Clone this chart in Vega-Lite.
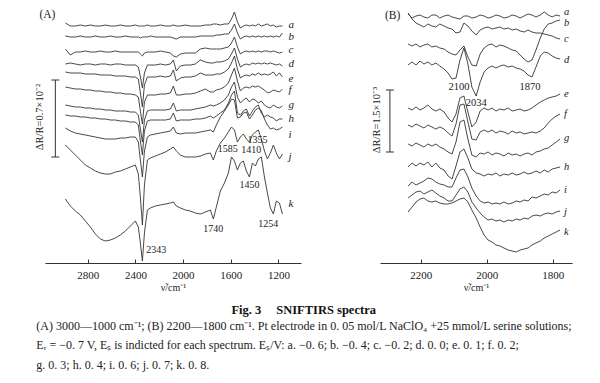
{
"$schema":"https://vega.github.io/schema/vega-lite/v6.json",
"background":"white",
"padding":{"left":35,"top":7,"right":5,"bottom":5},
"config":{"view":{"stroke":null},"font":"Liberation Serif","axis":{"domainColor":"#333","tickColor":"#333","tickSize":-4,"labelPadding":10,"labelFont":"Liberation Serif","labelFontSize":11,"labelColor":"#222","grid":false,"titleFont":"Liberation Serif","titleFontSize":10,"titleFontWeight":"normal","titleColor":"#222","titlePadding":2,"labelFlush":false}},
"datasets":{
"A":[
{"s":"a","x":2989,"y":240},{"s":"a","x":2947,"y":237},{"s":"a","x":2905,"y":237},{"s":"a","x":2863,"y":238},{"s":"a","x":2821,"y":237},{"s":"a","x":2779,"y":238},{"s":"a","x":2737,"y":237},{"s":"a","x":2695,"y":237},{"s":"a","x":2653,"y":238},{"s":"a","x":2611,"y":237},{"s":"a","x":2569,"y":237},{"s":"a","x":2527,"y":238},{"s":"a","x":2485,"y":237},{"s":"a","x":2443,"y":237},{"s":"a","x":2401,"y":238},{"s":"a","x":2376,"y":237},{"s":"a","x":2359,"y":237},{"s":"a","x":2342,"y":237},{"s":"a","x":2325,"y":237},{"s":"a","x":2300,"y":238},{"s":"a","x":2275,"y":237},{"s":"a","x":2233,"y":237},{"s":"a","x":2191,"y":238},{"s":"a","x":2149,"y":237},{"s":"a","x":2107,"y":237},{"s":"a","x":2082,"y":238},{"s":"a","x":2057,"y":237},{"s":"a","x":2023,"y":237},{"s":"a","x":1981,"y":238},{"s":"a","x":1939,"y":237},{"s":"a","x":1897,"y":237},{"s":"a","x":1855,"y":237},{"s":"a","x":1813,"y":238},{"s":"a","x":1771,"y":238},{"s":"a","x":1746,"y":239},{"s":"a","x":1721,"y":239},{"s":"a","x":1687,"y":238},{"s":"a","x":1653,"y":239},{"s":"a","x":1620,"y":239},{"s":"a","x":1594,"y":244},{"s":"a","x":1569,"y":251},{"s":"a","x":1544,"y":241},{"s":"a","x":1519,"y":235},{"s":"a","x":1494,"y":237},{"s":"a","x":1469,"y":238},{"s":"a","x":1443,"y":237},{"s":"a","x":1418,"y":238},{"s":"a","x":1393,"y":237},{"s":"a","x":1368,"y":239},{"s":"a","x":1343,"y":237},{"s":"a","x":1317,"y":238},{"s":"a","x":1292,"y":239},{"s":"a","x":1267,"y":237},{"s":"a","x":1242,"y":238},{"s":"a","x":1217,"y":236},{"s":"a","x":1191,"y":237},{"s":"a","x":1166,"y":237},
{"s":"b","x":2989,"y":227},{"s":"b","x":2947,"y":226},{"s":"b","x":2905,"y":226},{"s":"b","x":2863,"y":227},{"s":"b","x":2821,"y":226},{"s":"b","x":2779,"y":226},{"s":"b","x":2737,"y":227},{"s":"b","x":2695,"y":226},{"s":"b","x":2653,"y":226},{"s":"b","x":2611,"y":227},{"s":"b","x":2569,"y":226},{"s":"b","x":2527,"y":226},{"s":"b","x":2485,"y":227},{"s":"b","x":2443,"y":226},{"s":"b","x":2401,"y":226},{"s":"b","x":2376,"y":226},{"s":"b","x":2359,"y":225},{"s":"b","x":2342,"y":226},{"s":"b","x":2325,"y":226},{"s":"b","x":2300,"y":226},{"s":"b","x":2275,"y":227},{"s":"b","x":2233,"y":226},{"s":"b","x":2191,"y":226},{"s":"b","x":2149,"y":226},{"s":"b","x":2107,"y":226},{"s":"b","x":2082,"y":225},{"s":"b","x":2057,"y":224},{"s":"b","x":2023,"y":226},{"s":"b","x":1981,"y":226},{"s":"b","x":1939,"y":226},{"s":"b","x":1897,"y":226},{"s":"b","x":1855,"y":227},{"s":"b","x":1813,"y":227},{"s":"b","x":1771,"y":227},{"s":"b","x":1746,"y":227},{"s":"b","x":1721,"y":228},{"s":"b","x":1687,"y":228},{"s":"b","x":1653,"y":229},{"s":"b","x":1620,"y":229},{"s":"b","x":1594,"y":233},{"s":"b","x":1569,"y":239},{"s":"b","x":1544,"y":230},{"s":"b","x":1519,"y":224},{"s":"b","x":1494,"y":226},{"s":"b","x":1469,"y":227},{"s":"b","x":1443,"y":226},{"s":"b","x":1418,"y":227},{"s":"b","x":1393,"y":226},{"s":"b","x":1368,"y":227},{"s":"b","x":1343,"y":226},{"s":"b","x":1317,"y":227},{"s":"b","x":1292,"y":226},{"s":"b","x":1267,"y":227},{"s":"b","x":1242,"y":226},{"s":"b","x":1217,"y":227},{"s":"b","x":1191,"y":226},{"s":"b","x":1166,"y":230},
{"s":"c","x":2989,"y":214},{"s":"c","x":2947,"y":208},{"s":"c","x":2905,"y":211},{"s":"c","x":2863,"y":211},{"s":"c","x":2821,"y":212},{"s":"c","x":2779,"y":211},{"s":"c","x":2737,"y":211},{"s":"c","x":2695,"y":212},{"s":"c","x":2653,"y":211},{"s":"c","x":2611,"y":211},{"s":"c","x":2569,"y":212},{"s":"c","x":2527,"y":211},{"s":"c","x":2485,"y":211},{"s":"c","x":2443,"y":211},{"s":"c","x":2401,"y":211},{"s":"c","x":2376,"y":211},{"s":"c","x":2359,"y":209},{"s":"c","x":2342,"y":207},{"s":"c","x":2325,"y":210},{"s":"c","x":2300,"y":211},{"s":"c","x":2275,"y":211},{"s":"c","x":2233,"y":211},{"s":"c","x":2191,"y":212},{"s":"c","x":2149,"y":211},{"s":"c","x":2107,"y":210},{"s":"c","x":2082,"y":207},{"s":"c","x":2057,"y":206},{"s":"c","x":2023,"y":209},{"s":"c","x":1981,"y":210},{"s":"c","x":1939,"y":210},{"s":"c","x":1897,"y":210},{"s":"c","x":1855,"y":214},{"s":"c","x":1813,"y":215},{"s":"c","x":1771,"y":214},{"s":"c","x":1746,"y":214},{"s":"c","x":1721,"y":214},{"s":"c","x":1687,"y":214},{"s":"c","x":1653,"y":215},{"s":"c","x":1620,"y":216},{"s":"c","x":1594,"y":220},{"s":"c","x":1569,"y":226},{"s":"c","x":1544,"y":216},{"s":"c","x":1519,"y":209},{"s":"c","x":1494,"y":211},{"s":"c","x":1469,"y":212},{"s":"c","x":1443,"y":211},{"s":"c","x":1418,"y":212},{"s":"c","x":1393,"y":211},{"s":"c","x":1368,"y":212},{"s":"c","x":1343,"y":211},{"s":"c","x":1317,"y":212},{"s":"c","x":1292,"y":212},{"s":"c","x":1267,"y":211},{"s":"c","x":1242,"y":212},{"s":"c","x":1217,"y":211},{"s":"c","x":1191,"y":210},{"s":"c","x":1166,"y":211},
{"s":"d","x":2989,"y":199},{"s":"d","x":2947,"y":200},{"s":"d","x":2905,"y":199},{"s":"d","x":2863,"y":198},{"s":"d","x":2821,"y":199},{"s":"d","x":2779,"y":199},{"s":"d","x":2737,"y":198},{"s":"d","x":2695,"y":199},{"s":"d","x":2653,"y":199},{"s":"d","x":2611,"y":198},{"s":"d","x":2569,"y":199},{"s":"d","x":2527,"y":199},{"s":"d","x":2485,"y":198},{"s":"d","x":2443,"y":198},{"s":"d","x":2401,"y":198},{"s":"d","x":2376,"y":196},{"s":"d","x":2359,"y":186},{"s":"d","x":2342,"y":175},{"s":"d","x":2325,"y":190},{"s":"d","x":2300,"y":198},{"s":"d","x":2275,"y":198},{"s":"d","x":2233,"y":198},{"s":"d","x":2191,"y":199},{"s":"d","x":2149,"y":198},{"s":"d","x":2107,"y":199},{"s":"d","x":2082,"y":203},{"s":"d","x":2057,"y":192},{"s":"d","x":2023,"y":197},{"s":"d","x":1981,"y":198},{"s":"d","x":1939,"y":198},{"s":"d","x":1897,"y":199},{"s":"d","x":1855,"y":203},{"s":"d","x":1813,"y":201},{"s":"d","x":1771,"y":200},{"s":"d","x":1746,"y":200},{"s":"d","x":1721,"y":201},{"s":"d","x":1687,"y":201},{"s":"d","x":1653,"y":202},{"s":"d","x":1620,"y":204},{"s":"d","x":1594,"y":209},{"s":"d","x":1569,"y":215},{"s":"d","x":1544,"y":204},{"s":"d","x":1519,"y":196},{"s":"d","x":1494,"y":198},{"s":"d","x":1469,"y":199},{"s":"d","x":1443,"y":198},{"s":"d","x":1418,"y":200},{"s":"d","x":1393,"y":199},{"s":"d","x":1368,"y":200},{"s":"d","x":1343,"y":199},{"s":"d","x":1317,"y":200},{"s":"d","x":1292,"y":199},{"s":"d","x":1267,"y":200},{"s":"d","x":1242,"y":199},{"s":"d","x":1217,"y":198},{"s":"d","x":1191,"y":199},{"s":"d","x":1166,"y":197},
{"s":"e","x":2989,"y":191},{"s":"e","x":2947,"y":190},{"s":"e","x":2905,"y":190},{"s":"e","x":2863,"y":190},{"s":"e","x":2821,"y":189},{"s":"e","x":2779,"y":189},{"s":"e","x":2737,"y":189},{"s":"e","x":2695,"y":188},{"s":"e","x":2653,"y":188},{"s":"e","x":2611,"y":188},{"s":"e","x":2569,"y":187},{"s":"e","x":2527,"y":187},{"s":"e","x":2485,"y":187},{"s":"e","x":2443,"y":186},{"s":"e","x":2401,"y":186},{"s":"e","x":2376,"y":184},{"s":"e","x":2359,"y":170},{"s":"e","x":2342,"y":156},{"s":"e","x":2325,"y":178},{"s":"e","x":2300,"y":186},{"s":"e","x":2275,"y":186},{"s":"e","x":2233,"y":186},{"s":"e","x":2191,"y":187},{"s":"e","x":2149,"y":186},{"s":"e","x":2107,"y":187},{"s":"e","x":2082,"y":193},{"s":"e","x":2057,"y":182},{"s":"e","x":2023,"y":185},{"s":"e","x":1981,"y":186},{"s":"e","x":1939,"y":186},{"s":"e","x":1897,"y":187},{"s":"e","x":1855,"y":190},{"s":"e","x":1813,"y":188},{"s":"e","x":1771,"y":188},{"s":"e","x":1746,"y":188},{"s":"e","x":1721,"y":189},{"s":"e","x":1687,"y":189},{"s":"e","x":1653,"y":191},{"s":"e","x":1620,"y":194},{"s":"e","x":1594,"y":200},{"s":"e","x":1569,"y":207},{"s":"e","x":1544,"y":194},{"s":"e","x":1519,"y":185},{"s":"e","x":1494,"y":187},{"s":"e","x":1469,"y":188},{"s":"e","x":1443,"y":187},{"s":"e","x":1418,"y":189},{"s":"e","x":1393,"y":188},{"s":"e","x":1368,"y":190},{"s":"e","x":1343,"y":188},{"s":"e","x":1317,"y":189},{"s":"e","x":1292,"y":188},{"s":"e","x":1267,"y":189},{"s":"e","x":1242,"y":191},{"s":"e","x":1217,"y":187},{"s":"e","x":1191,"y":190},{"s":"e","x":1166,"y":186},
{"s":"f","x":2989,"y":176},{"s":"f","x":2947,"y":175},{"s":"f","x":2905,"y":174},{"s":"f","x":2863,"y":174},{"s":"f","x":2821,"y":173},{"s":"f","x":2779,"y":173},{"s":"f","x":2737,"y":172},{"s":"f","x":2695,"y":172},{"s":"f","x":2653,"y":171},{"s":"f","x":2611,"y":171},{"s":"f","x":2569,"y":170},{"s":"f","x":2527,"y":170},{"s":"f","x":2485,"y":169},{"s":"f","x":2443,"y":169},{"s":"f","x":2401,"y":168},{"s":"f","x":2376,"y":166},{"s":"f","x":2359,"y":152},{"s":"f","x":2342,"y":139},{"s":"f","x":2325,"y":161},{"s":"f","x":2300,"y":168},{"s":"f","x":2275,"y":168},{"s":"f","x":2233,"y":168},{"s":"f","x":2191,"y":169},{"s":"f","x":2149,"y":169},{"s":"f","x":2107,"y":170},{"s":"f","x":2082,"y":177},{"s":"f","x":2057,"y":168},{"s":"f","x":2023,"y":168},{"s":"f","x":1981,"y":169},{"s":"f","x":1939,"y":169},{"s":"f","x":1897,"y":170},{"s":"f","x":1855,"y":172},{"s":"f","x":1813,"y":174},{"s":"f","x":1771,"y":171},{"s":"f","x":1746,"y":171},{"s":"f","x":1721,"y":173},{"s":"f","x":1687,"y":174},{"s":"f","x":1653,"y":176},{"s":"f","x":1620,"y":180},{"s":"f","x":1594,"y":188},{"s":"f","x":1569,"y":195},{"s":"f","x":1544,"y":182},{"s":"f","x":1519,"y":172},{"s":"f","x":1494,"y":175},{"s":"f","x":1469,"y":176},{"s":"f","x":1443,"y":175},{"s":"f","x":1418,"y":177},{"s":"f","x":1393,"y":176},{"s":"f","x":1368,"y":177},{"s":"f","x":1343,"y":175},{"s":"f","x":1317,"y":173},{"s":"f","x":1292,"y":170},{"s":"f","x":1267,"y":171},{"s":"f","x":1242,"y":173},{"s":"f","x":1217,"y":172},{"s":"f","x":1191,"y":171},{"s":"f","x":1166,"y":174},
{"s":"g","x":2989,"y":158},{"s":"g","x":2947,"y":157},{"s":"g","x":2905,"y":156},{"s":"g","x":2863,"y":156},{"s":"g","x":2821,"y":155},{"s":"g","x":2779,"y":155},{"s":"g","x":2737,"y":154},{"s":"g","x":2695,"y":154},{"s":"g","x":2653,"y":153},{"s":"g","x":2611,"y":153},{"s":"g","x":2569,"y":152},{"s":"g","x":2527,"y":152},{"s":"g","x":2485,"y":152},{"s":"g","x":2443,"y":151},{"s":"g","x":2401,"y":151},{"s":"g","x":2376,"y":148},{"s":"g","x":2359,"y":134},{"s":"g","x":2342,"y":121},{"s":"g","x":2325,"y":143},{"s":"g","x":2300,"y":152},{"s":"g","x":2275,"y":153},{"s":"g","x":2233,"y":153},{"s":"g","x":2191,"y":153},{"s":"g","x":2149,"y":153},{"s":"g","x":2107,"y":154},{"s":"g","x":2082,"y":160},{"s":"g","x":2057,"y":152},{"s":"g","x":2023,"y":153},{"s":"g","x":1981,"y":153},{"s":"g","x":1939,"y":153},{"s":"g","x":1897,"y":154},{"s":"g","x":1855,"y":155},{"s":"g","x":1813,"y":156},{"s":"g","x":1771,"y":158},{"s":"g","x":1746,"y":157},{"s":"g","x":1721,"y":158},{"s":"g","x":1687,"y":160},{"s":"g","x":1653,"y":163},{"s":"g","x":1620,"y":168},{"s":"g","x":1594,"y":176},{"s":"g","x":1569,"y":181},{"s":"g","x":1544,"y":166},{"s":"g","x":1519,"y":160},{"s":"g","x":1494,"y":163},{"s":"g","x":1469,"y":165},{"s":"g","x":1443,"y":161},{"s":"g","x":1418,"y":164},{"s":"g","x":1393,"y":163},{"s":"g","x":1368,"y":160},{"s":"g","x":1343,"y":162},{"s":"g","x":1317,"y":158},{"s":"g","x":1292,"y":156},{"s":"g","x":1267,"y":155},{"s":"g","x":1242,"y":158},{"s":"g","x":1217,"y":156},{"s":"g","x":1191,"y":155},{"s":"g","x":1166,"y":157},
{"s":"h","x":2989,"y":148},{"s":"h","x":2947,"y":147},{"s":"h","x":2905,"y":147},{"s":"h","x":2863,"y":146},{"s":"h","x":2821,"y":146},{"s":"h","x":2779,"y":145},{"s":"h","x":2737,"y":145},{"s":"h","x":2695,"y":144},{"s":"h","x":2653,"y":144},{"s":"h","x":2611,"y":143},{"s":"h","x":2569,"y":143},{"s":"h","x":2527,"y":142},{"s":"h","x":2485,"y":142},{"s":"h","x":2443,"y":141},{"s":"h","x":2401,"y":141},{"s":"h","x":2376,"y":138},{"s":"h","x":2359,"y":122},{"s":"h","x":2342,"y":108},{"s":"h","x":2325,"y":132},{"s":"h","x":2300,"y":142},{"s":"h","x":2275,"y":143},{"s":"h","x":2233,"y":143},{"s":"h","x":2191,"y":143},{"s":"h","x":2149,"y":143},{"s":"h","x":2107,"y":144},{"s":"h","x":2082,"y":150},{"s":"h","x":2057,"y":142},{"s":"h","x":2023,"y":143},{"s":"h","x":1981,"y":143},{"s":"h","x":1939,"y":143},{"s":"h","x":1897,"y":144},{"s":"h","x":1855,"y":144},{"s":"h","x":1813,"y":145},{"s":"h","x":1771,"y":147},{"s":"h","x":1746,"y":145},{"s":"h","x":1721,"y":147},{"s":"h","x":1687,"y":150},{"s":"h","x":1653,"y":153},{"s":"h","x":1620,"y":160},{"s":"h","x":1594,"y":168},{"s":"h","x":1569,"y":172},{"s":"h","x":1544,"y":150},{"s":"h","x":1519,"y":148},{"s":"h","x":1494,"y":152},{"s":"h","x":1469,"y":154},{"s":"h","x":1443,"y":147},{"s":"h","x":1418,"y":152},{"s":"h","x":1393,"y":156},{"s":"h","x":1368,"y":158},{"s":"h","x":1343,"y":150},{"s":"h","x":1317,"y":146},{"s":"h","x":1292,"y":148},{"s":"h","x":1267,"y":146},{"s":"h","x":1242,"y":145},{"s":"h","x":1217,"y":142},{"s":"h","x":1191,"y":144},{"s":"h","x":1166,"y":144},
{"s":"i","x":2989,"y":135},{"s":"i","x":2947,"y":132},{"s":"i","x":2905,"y":130},{"s":"i","x":2863,"y":129},{"s":"i","x":2821,"y":128},{"s":"i","x":2779,"y":127},{"s":"i","x":2737,"y":126},{"s":"i","x":2695,"y":125},{"s":"i","x":2653,"y":124},{"s":"i","x":2611,"y":124},{"s":"i","x":2569,"y":124},{"s":"i","x":2527,"y":125},{"s":"i","x":2485,"y":125},{"s":"i","x":2443,"y":126},{"s":"i","x":2401,"y":126},{"s":"i","x":2376,"y":121},{"s":"i","x":2359,"y":103},{"s":"i","x":2342,"y":86},{"s":"i","x":2325,"y":112},{"s":"i","x":2300,"y":126},{"s":"i","x":2275,"y":128},{"s":"i","x":2233,"y":129},{"s":"i","x":2191,"y":130},{"s":"i","x":2149,"y":131},{"s":"i","x":2107,"y":132},{"s":"i","x":2082,"y":136},{"s":"i","x":2057,"y":130},{"s":"i","x":2023,"y":129},{"s":"i","x":1981,"y":130},{"s":"i","x":1939,"y":130},{"s":"i","x":1897,"y":130},{"s":"i","x":1855,"y":131},{"s":"i","x":1813,"y":132},{"s":"i","x":1771,"y":133},{"s":"i","x":1746,"y":131},{"s":"i","x":1721,"y":138},{"s":"i","x":1687,"y":146},{"s":"i","x":1653,"y":152},{"s":"i","x":1620,"y":158},{"s":"i","x":1594,"y":164},{"s":"i","x":1569,"y":163},{"s":"i","x":1544,"y":145},{"s":"i","x":1519,"y":146},{"s":"i","x":1494,"y":150},{"s":"i","x":1469,"y":151},{"s":"i","x":1443,"y":144},{"s":"i","x":1418,"y":148},{"s":"i","x":1393,"y":153},{"s":"i","x":1368,"y":155},{"s":"i","x":1343,"y":152},{"s":"i","x":1317,"y":144},{"s":"i","x":1292,"y":138},{"s":"i","x":1267,"y":134},{"s":"i","x":1242,"y":135},{"s":"i","x":1217,"y":133},{"s":"i","x":1191,"y":134},{"s":"i","x":1166,"y":136},
{"s":"j","x":2989,"y":118},{"s":"j","x":2947,"y":113},{"s":"j","x":2905,"y":108},{"s":"j","x":2863,"y":103},{"s":"j","x":2821,"y":98},{"s":"j","x":2779,"y":95},{"s":"j","x":2737,"y":92},{"s":"j","x":2695,"y":90},{"s":"j","x":2653,"y":89},{"s":"j","x":2611,"y":89},{"s":"j","x":2569,"y":91},{"s":"j","x":2527,"y":92},{"s":"j","x":2485,"y":94},{"s":"j","x":2443,"y":96},{"s":"j","x":2401,"y":98},{"s":"j","x":2376,"y":89},{"s":"j","x":2359,"y":66},{"s":"j","x":2342,"y":38},{"s":"j","x":2325,"y":78},{"s":"j","x":2300,"y":103},{"s":"j","x":2275,"y":105},{"s":"j","x":2233,"y":107},{"s":"j","x":2191,"y":109},{"s":"j","x":2149,"y":111},{"s":"j","x":2107,"y":114},{"s":"j","x":2082,"y":116},{"s":"j","x":2057,"y":112},{"s":"j","x":2023,"y":108},{"s":"j","x":1981,"y":106},{"s":"j","x":1939,"y":106},{"s":"j","x":1897,"y":106},{"s":"j","x":1855,"y":107},{"s":"j","x":1813,"y":109},{"s":"j","x":1771,"y":110},{"s":"j","x":1746,"y":103},{"s":"j","x":1721,"y":112},{"s":"j","x":1687,"y":120},{"s":"j","x":1653,"y":125},{"s":"j","x":1620,"y":131},{"s":"j","x":1594,"y":136},{"s":"j","x":1569,"y":133},{"s":"j","x":1544,"y":121},{"s":"j","x":1519,"y":126},{"s":"j","x":1494,"y":129},{"s":"j","x":1469,"y":124},{"s":"j","x":1443,"y":121},{"s":"j","x":1418,"y":128},{"s":"j","x":1393,"y":131},{"s":"j","x":1368,"y":133},{"s":"j","x":1343,"y":124},{"s":"j","x":1317,"y":112},{"s":"j","x":1292,"y":104},{"s":"j","x":1267,"y":110},{"s":"j","x":1242,"y":118},{"s":"j","x":1217,"y":110},{"s":"j","x":1191,"y":104},{"s":"j","x":1166,"y":109},
{"s":"k","x":2989,"y":64},{"s":"k","x":2947,"y":57},{"s":"k","x":2905,"y":52},{"s":"k","x":2863,"y":48},{"s":"k","x":2821,"y":42},{"s":"k","x":2779,"y":36},{"s":"k","x":2737,"y":29},{"s":"k","x":2695,"y":24},{"s":"k","x":2653,"y":22},{"s":"k","x":2611,"y":23},{"s":"k","x":2569,"y":25},{"s":"k","x":2527,"y":28},{"s":"k","x":2485,"y":32},{"s":"k","x":2443,"y":37},{"s":"k","x":2401,"y":42},{"s":"k","x":2376,"y":36},{"s":"k","x":2359,"y":20},{"s":"k","x":2342,"y":2},{"s":"k","x":2325,"y":30},{"s":"k","x":2300,"y":53},{"s":"k","x":2275,"y":55},{"s":"k","x":2233,"y":57},{"s":"k","x":2191,"y":58},{"s":"k","x":2149,"y":59},{"s":"k","x":2107,"y":60},{"s":"k","x":2082,"y":61},{"s":"k","x":2057,"y":57},{"s":"k","x":2023,"y":55},{"s":"k","x":1981,"y":53},{"s":"k","x":1939,"y":52},{"s":"k","x":1897,"y":50},{"s":"k","x":1855,"y":49},{"s":"k","x":1813,"y":51},{"s":"k","x":1771,"y":53},{"s":"k","x":1746,"y":44},{"s":"k","x":1721,"y":56},{"s":"k","x":1687,"y":72},{"s":"k","x":1653,"y":80},{"s":"k","x":1620,"y":90},{"s":"k","x":1594,"y":106},{"s":"k","x":1569,"y":102},{"s":"k","x":1544,"y":93},{"s":"k","x":1519,"y":100},{"s":"k","x":1494,"y":102},{"s":"k","x":1469,"y":92},{"s":"k","x":1443,"y":86},{"s":"k","x":1418,"y":100},{"s":"k","x":1393,"y":97},{"s":"k","x":1368,"y":104},{"s":"k","x":1343,"y":106},{"s":"k","x":1317,"y":86},{"s":"k","x":1292,"y":70},{"s":"k","x":1267,"y":55},{"s":"k","x":1242,"y":49},{"s":"k","x":1217,"y":62},{"s":"k","x":1191,"y":60},{"s":"k","x":1166,"y":49}
],
"B":[
{"s":"a","x":2238,"y":249},{"s":"a","x":2226,"y":245},{"s":"a","x":2214,"y":247},{"s":"a","x":2202,"y":248},{"s":"a","x":2190,"y":246},{"s":"a","x":2178,"y":245},{"s":"a","x":2166,"y":248},{"s":"a","x":2154,"y":248},{"s":"a","x":2142,"y":245},{"s":"a","x":2129,"y":247},{"s":"a","x":2117,"y":248},{"s":"a","x":2105,"y":246},{"s":"a","x":2093,"y":245},{"s":"a","x":2081,"y":244},{"s":"a","x":2069,"y":247},{"s":"a","x":2057,"y":247},{"s":"a","x":2045,"y":245},{"s":"a","x":2032,"y":246},{"s":"a","x":2020,"y":248},{"s":"a","x":2008,"y":247},{"s":"a","x":1996,"y":245},{"s":"a","x":1984,"y":246},{"s":"a","x":1972,"y":248},{"s":"a","x":1960,"y":247},{"s":"a","x":1948,"y":245},{"s":"a","x":1935,"y":246},{"s":"a","x":1923,"y":248},{"s":"a","x":1911,"y":247},{"s":"a","x":1899,"y":245},{"s":"a","x":1887,"y":247},{"s":"a","x":1875,"y":249},{"s":"a","x":1863,"y":248},{"s":"a","x":1851,"y":246},{"s":"a","x":1838,"y":248},{"s":"a","x":1826,"y":251},{"s":"a","x":1814,"y":248},{"s":"a","x":1802,"y":246},{"s":"a","x":1790,"y":248},{"s":"a","x":1778,"y":247},
{"s":"b","x":2238,"y":250},{"s":"b","x":2226,"y":244},{"s":"b","x":2214,"y":240},{"s":"b","x":2202,"y":238},{"s":"b","x":2190,"y":236},{"s":"b","x":2178,"y":239},{"s":"b","x":2166,"y":237},{"s":"b","x":2154,"y":236},{"s":"b","x":2142,"y":239},{"s":"b","x":2129,"y":237},{"s":"b","x":2117,"y":235},{"s":"b","x":2105,"y":234},{"s":"b","x":2093,"y":230},{"s":"b","x":2081,"y":231},{"s":"b","x":2069,"y":240},{"s":"b","x":2057,"y":237},{"s":"b","x":2045,"y":232},{"s":"b","x":2032,"y":228},{"s":"b","x":2020,"y":233},{"s":"b","x":2008,"y":235},{"s":"b","x":1996,"y":236},{"s":"b","x":1984,"y":234},{"s":"b","x":1972,"y":235},{"s":"b","x":1960,"y":236},{"s":"b","x":1948,"y":234},{"s":"b","x":1935,"y":235},{"s":"b","x":1923,"y":233},{"s":"b","x":1911,"y":234},{"s":"b","x":1899,"y":232},{"s":"b","x":1887,"y":231},{"s":"b","x":1875,"y":233},{"s":"b","x":1863,"y":231},{"s":"b","x":1851,"y":230},{"s":"b","x":1838,"y":230},{"s":"b","x":1826,"y":229},{"s":"b","x":1814,"y":228},{"s":"b","x":1802,"y":227},{"s":"b","x":1790,"y":225},{"s":"b","x":1778,"y":224},
{"s":"c","x":2238,"y":219},{"s":"c","x":2226,"y":217},{"s":"c","x":2214,"y":219},{"s":"c","x":2202,"y":216},{"s":"c","x":2190,"y":218},{"s":"c","x":2178,"y":219},{"s":"c","x":2166,"y":216},{"s":"c","x":2154,"y":217},{"s":"c","x":2142,"y":215},{"s":"c","x":2129,"y":214},{"s":"c","x":2117,"y":211},{"s":"c","x":2105,"y":209},{"s":"c","x":2093,"y":208},{"s":"c","x":2081,"y":213},{"s":"c","x":2069,"y":217},{"s":"c","x":2057,"y":206},{"s":"c","x":2045,"y":198},{"s":"c","x":2032,"y":197},{"s":"c","x":2020,"y":209},{"s":"c","x":2008,"y":215},{"s":"c","x":1996,"y":218},{"s":"c","x":1984,"y":219},{"s":"c","x":1972,"y":216},{"s":"c","x":1960,"y":218},{"s":"c","x":1948,"y":217},{"s":"c","x":1935,"y":215},{"s":"c","x":1923,"y":213},{"s":"c","x":1911,"y":212},{"s":"c","x":1899,"y":208},{"s":"c","x":1887,"y":204},{"s":"c","x":1875,"y":201},{"s":"c","x":1863,"y":203},{"s":"c","x":1851,"y":213},{"s":"c","x":1838,"y":225},{"s":"c","x":1826,"y":234},{"s":"c","x":1814,"y":239},{"s":"c","x":1802,"y":240},{"s":"c","x":1790,"y":242},{"s":"c","x":1778,"y":243},
{"s":"d","x":2238,"y":198},{"s":"d","x":2226,"y":201},{"s":"d","x":2214,"y":198},{"s":"d","x":2202,"y":202},{"s":"d","x":2190,"y":199},{"s":"d","x":2178,"y":201},{"s":"d","x":2166,"y":198},{"s":"d","x":2154,"y":200},{"s":"d","x":2142,"y":197},{"s":"d","x":2129,"y":194},{"s":"d","x":2117,"y":190},{"s":"d","x":2105,"y":184},{"s":"d","x":2093,"y":185},{"s":"d","x":2081,"y":203},{"s":"d","x":2069,"y":215},{"s":"d","x":2057,"y":199},{"s":"d","x":2045,"y":176},{"s":"d","x":2032,"y":167},{"s":"d","x":2020,"y":181},{"s":"d","x":2008,"y":191},{"s":"d","x":1996,"y":195},{"s":"d","x":1984,"y":197},{"s":"d","x":1972,"y":195},{"s":"d","x":1960,"y":197},{"s":"d","x":1948,"y":198},{"s":"d","x":1935,"y":196},{"s":"d","x":1923,"y":197},{"s":"d","x":1911,"y":195},{"s":"d","x":1899,"y":194},{"s":"d","x":1887,"y":192},{"s":"d","x":1875,"y":188},{"s":"d","x":1863,"y":186},{"s":"d","x":1851,"y":196},{"s":"d","x":1838,"y":207},{"s":"d","x":1826,"y":211},{"s":"d","x":1814,"y":210},{"s":"d","x":1802,"y":207},{"s":"d","x":1790,"y":205},{"s":"d","x":1778,"y":204},
{"s":"e","x":2238,"y":155},{"s":"e","x":2226,"y":153},{"s":"e","x":2214,"y":156},{"s":"e","x":2202,"y":153},{"s":"e","x":2190,"y":155},{"s":"e","x":2178,"y":158},{"s":"e","x":2166,"y":154},{"s":"e","x":2154,"y":152},{"s":"e","x":2142,"y":154},{"s":"e","x":2129,"y":151},{"s":"e","x":2117,"y":145},{"s":"e","x":2105,"y":141},{"s":"e","x":2093,"y":149},{"s":"e","x":2081,"y":165},{"s":"e","x":2069,"y":167},{"s":"e","x":2057,"y":151},{"s":"e","x":2045,"y":136},{"s":"e","x":2032,"y":141},{"s":"e","x":2020,"y":152},{"s":"e","x":2008,"y":155},{"s":"e","x":1996,"y":153},{"s":"e","x":1984,"y":155},{"s":"e","x":1972,"y":152},{"s":"e","x":1960,"y":154},{"s":"e","x":1948,"y":153},{"s":"e","x":1935,"y":155},{"s":"e","x":1923,"y":152},{"s":"e","x":1911,"y":153},{"s":"e","x":1899,"y":154},{"s":"e","x":1887,"y":152},{"s":"e","x":1875,"y":153},{"s":"e","x":1863,"y":155},{"s":"e","x":1851,"y":158},{"s":"e","x":1838,"y":161},{"s":"e","x":1826,"y":163},{"s":"e","x":1814,"y":165},{"s":"e","x":1802,"y":166},{"s":"e","x":1790,"y":167},{"s":"e","x":1778,"y":169},
{"s":"f","x":2238,"y":138},{"s":"f","x":2226,"y":136},{"s":"f","x":2214,"y":139},{"s":"f","x":2202,"y":137},{"s":"f","x":2190,"y":135},{"s":"f","x":2178,"y":138},{"s":"f","x":2166,"y":136},{"s":"f","x":2154,"y":134},{"s":"f","x":2142,"y":136},{"s":"f","x":2129,"y":134},{"s":"f","x":2117,"y":130},{"s":"f","x":2105,"y":127},{"s":"f","x":2093,"y":139},{"s":"f","x":2081,"y":158},{"s":"f","x":2069,"y":159},{"s":"f","x":2057,"y":141},{"s":"f","x":2045,"y":124},{"s":"f","x":2032,"y":123},{"s":"f","x":2020,"y":131},{"s":"f","x":2008,"y":133},{"s":"f","x":1996,"y":131},{"s":"f","x":1984,"y":133},{"s":"f","x":1972,"y":130},{"s":"f","x":1960,"y":132},{"s":"f","x":1948,"y":131},{"s":"f","x":1935,"y":129},{"s":"f","x":1923,"y":132},{"s":"f","x":1911,"y":130},{"s":"f","x":1899,"y":131},{"s":"f","x":1887,"y":129},{"s":"f","x":1875,"y":130},{"s":"f","x":1863,"y":131},{"s":"f","x":1851,"y":130},{"s":"f","x":1838,"y":132},{"s":"f","x":1826,"y":135},{"s":"f","x":1814,"y":140},{"s":"f","x":1802,"y":144},{"s":"f","x":1790,"y":147},{"s":"f","x":1778,"y":149},
{"s":"g","x":2238,"y":119},{"s":"g","x":2226,"y":117},{"s":"g","x":2214,"y":120},{"s":"g","x":2202,"y":118},{"s":"g","x":2190,"y":116},{"s":"g","x":2178,"y":119},{"s":"g","x":2166,"y":117},{"s":"g","x":2154,"y":119},{"s":"g","x":2142,"y":116},{"s":"g","x":2129,"y":114},{"s":"g","x":2117,"y":111},{"s":"g","x":2105,"y":109},{"s":"g","x":2093,"y":121},{"s":"g","x":2081,"y":141},{"s":"g","x":2069,"y":143},{"s":"g","x":2057,"y":124},{"s":"g","x":2045,"y":108},{"s":"g","x":2032,"y":106},{"s":"g","x":2020,"y":110},{"s":"g","x":2008,"y":109},{"s":"g","x":1996,"y":111},{"s":"g","x":1984,"y":108},{"s":"g","x":1972,"y":110},{"s":"g","x":1960,"y":109},{"s":"g","x":1948,"y":107},{"s":"g","x":1935,"y":110},{"s":"g","x":1923,"y":108},{"s":"g","x":1911,"y":109},{"s":"g","x":1899,"y":107},{"s":"g","x":1887,"y":109},{"s":"g","x":1875,"y":110},{"s":"g","x":1863,"y":108},{"s":"g","x":1851,"y":111},{"s":"g","x":1838,"y":112},{"s":"g","x":1826,"y":114},{"s":"g","x":1814,"y":115},{"s":"g","x":1802,"y":118},{"s":"g","x":1790,"y":121},{"s":"g","x":1778,"y":124},
{"s":"h","x":2238,"y":96},{"s":"h","x":2226,"y":100},{"s":"h","x":2214,"y":97},{"s":"h","x":2202,"y":100},{"s":"h","x":2190,"y":98},{"s":"h","x":2178,"y":101},{"s":"h","x":2166,"y":96},{"s":"h","x":2154,"y":100},{"s":"h","x":2142,"y":95},{"s":"h","x":2129,"y":93},{"s":"h","x":2117,"y":87},{"s":"h","x":2105,"y":84},{"s":"h","x":2093,"y":97},{"s":"h","x":2081,"y":111},{"s":"h","x":2069,"y":114},{"s":"h","x":2057,"y":105},{"s":"h","x":2045,"y":94},{"s":"h","x":2032,"y":90},{"s":"h","x":2020,"y":89},{"s":"h","x":2008,"y":87},{"s":"h","x":1996,"y":89},{"s":"h","x":1984,"y":88},{"s":"h","x":1972,"y":90},{"s":"h","x":1960,"y":87},{"s":"h","x":1948,"y":89},{"s":"h","x":1935,"y":88},{"s":"h","x":1923,"y":90},{"s":"h","x":1911,"y":88},{"s":"h","x":1899,"y":89},{"s":"h","x":1887,"y":91},{"s":"h","x":1875,"y":89},{"s":"h","x":1863,"y":90},{"s":"h","x":1851,"y":92},{"s":"h","x":1838,"y":90},{"s":"h","x":1826,"y":93},{"s":"h","x":1814,"y":91},{"s":"h","x":1802,"y":94},{"s":"h","x":1790,"y":95},{"s":"h","x":1778,"y":96},
{"s":"i","x":2238,"y":77},{"s":"i","x":2226,"y":81},{"s":"i","x":2214,"y":78},{"s":"i","x":2202,"y":80},{"s":"i","x":2190,"y":82},{"s":"i","x":2178,"y":85},{"s":"i","x":2166,"y":84},{"s":"i","x":2154,"y":81},{"s":"i","x":2142,"y":79},{"s":"i","x":2129,"y":78},{"s":"i","x":2117,"y":76},{"s":"i","x":2105,"y":76},{"s":"i","x":2093,"y":85},{"s":"i","x":2081,"y":93},{"s":"i","x":2069,"y":94},{"s":"i","x":2057,"y":86},{"s":"i","x":2045,"y":75},{"s":"i","x":2032,"y":67},{"s":"i","x":2020,"y":62},{"s":"i","x":2008,"y":60},{"s":"i","x":1996,"y":61},{"s":"i","x":1984,"y":59},{"s":"i","x":1972,"y":60},{"s":"i","x":1960,"y":59},{"s":"i","x":1948,"y":61},{"s":"i","x":1935,"y":59},{"s":"i","x":1923,"y":60},{"s":"i","x":1911,"y":62},{"s":"i","x":1899,"y":61},{"s":"i","x":1887,"y":63},{"s":"i","x":1875,"y":62},{"s":"i","x":1863,"y":66},{"s":"i","x":1851,"y":65},{"s":"i","x":1838,"y":67},{"s":"i","x":1826,"y":69},{"s":"i","x":1814,"y":68},{"s":"i","x":1802,"y":71},{"s":"i","x":1790,"y":70},{"s":"i","x":1778,"y":73},
{"s":"j","x":2238,"y":65},{"s":"j","x":2226,"y":68},{"s":"j","x":2214,"y":71},{"s":"j","x":2202,"y":72},{"s":"j","x":2190,"y":69},{"s":"j","x":2178,"y":71},{"s":"j","x":2166,"y":73},{"s":"j","x":2154,"y":70},{"s":"j","x":2142,"y":67},{"s":"j","x":2129,"y":65},{"s":"j","x":2117,"y":62},{"s":"j","x":2105,"y":62},{"s":"j","x":2093,"y":68},{"s":"j","x":2081,"y":74},{"s":"j","x":2069,"y":76},{"s":"j","x":2057,"y":71},{"s":"j","x":2045,"y":61},{"s":"j","x":2032,"y":55},{"s":"j","x":2020,"y":50},{"s":"j","x":2008,"y":46},{"s":"j","x":1996,"y":43},{"s":"j","x":1984,"y":44},{"s":"j","x":1972,"y":42},{"s":"j","x":1960,"y":43},{"s":"j","x":1948,"y":41},{"s":"j","x":1935,"y":43},{"s":"j","x":1923,"y":42},{"s":"j","x":1911,"y":44},{"s":"j","x":1899,"y":43},{"s":"j","x":1887,"y":45},{"s":"j","x":1875,"y":44},{"s":"j","x":1863,"y":47},{"s":"j","x":1851,"y":48},{"s":"j","x":1838,"y":47},{"s":"j","x":1826,"y":49},{"s":"j","x":1814,"y":50},{"s":"j","x":1802,"y":49},{"s":"j","x":1790,"y":51},{"s":"j","x":1778,"y":52},
{"s":"k","x":2238,"y":51},{"s":"k","x":2226,"y":56},{"s":"k","x":2214,"y":61},{"s":"k","x":2202,"y":64},{"s":"k","x":2190,"y":65},{"s":"k","x":2178,"y":62},{"s":"k","x":2166,"y":61},{"s":"k","x":2154,"y":62},{"s":"k","x":2142,"y":60},{"s":"k","x":2129,"y":59},{"s":"k","x":2117,"y":59},{"s":"k","x":2105,"y":60},{"s":"k","x":2093,"y":62},{"s":"k","x":2081,"y":64},{"s":"k","x":2069,"y":65},{"s":"k","x":2057,"y":61},{"s":"k","x":2045,"y":53},{"s":"k","x":2032,"y":45},{"s":"k","x":2020,"y":36},{"s":"k","x":2008,"y":28},{"s":"k","x":1996,"y":23},{"s":"k","x":1984,"y":21},{"s":"k","x":1972,"y":18},{"s":"k","x":1960,"y":17},{"s":"k","x":1948,"y":15},{"s":"k","x":1935,"y":13},{"s":"k","x":1923,"y":12},{"s":"k","x":1911,"y":11},{"s":"k","x":1899,"y":13},{"s":"k","x":1887,"y":14},{"s":"k","x":1875,"y":15},{"s":"k","x":1863,"y":18},{"s":"k","x":1851,"y":20},{"s":"k","x":1838,"y":22},{"s":"k","x":1826,"y":25},{"s":"k","x":1814,"y":27},{"s":"k","x":1802,"y":29},{"s":"k","x":1790,"y":31},{"s":"k","x":1778,"y":33}
]
},
"title":{"text":["(A) 3000—1000 cm⁻¹; (B) 2200—1800 cm⁻¹. Pt electrode in 0. 05 mol/L NaClO₄ +25 mmol/L serine solutions;","Eᵣ = −0. 7 V, Eₛ is indicted for each spectrum. Eₛ/V: a.  −0. 6; b.  −0. 4; c.  −0. 2; d. 0. 0; e. 0. 1; f. 0. 2;","g. 0. 3; h. 0. 4; i. 0. 6; j. 0. 7; k. 0. 8."],"orient":"bottom","anchor":"start","frame":"bounds","font":"Liberation Serif","fontSize":12,"fontWeight":"normal","color":"#222","lineHeight":19.5,"offset":4,"dx":1},
"vconcat":[{
"title":{"text":"Fig. 3\u2003\u2009SNIFTIRS spectra","orient":"bottom","anchor":"middle","frame":"bounds","font":"Liberation Serif","fontSize":12.5,"fontWeight":"bold","color":"#111","offset":12},
"spacing":79,"bounds":"flush",
"hconcat":[
{"width":256,"height":251,
"layer":[
{"data":{"name":"A"},"mark":{"type":"line","stroke":"#333","strokeWidth":0.9},
"encoding":{"x":{"field":"x","type":"quantitative","scale":{"domain":[3160,1010],"nice":false,"zero":false},"axis":{"values":[2800,2400,2000,1600,1200],"format":"d","title":"ν̃/cm⁻¹"}},
"y":{"field":"y","type":"quantitative","scale":{"domain":[0,251],"nice":false,"zero":false},"axis":null},"detail":{"field":"s"}}},
{"data":{"values":[{"x":3073,"x2":3073,"y":183,"y2":106},{"x":3107,"x2":3040,"y":183,"y2":183},{"x":3107,"x2":3040,"y":106,"y2":106}]},"mark":{"type":"rule","stroke":"#333","strokeWidth":1},
"encoding":{"x":{"field":"x","type":"quantitative"},"x2":{"field":"x2"},"y":{"field":"y","type":"quantitative","axis":null},"y2":{"field":"y2"}}},
{"data":{"values":[{"t":"a","x":1116,"y":238},{"t":"b","x":1116,"y":226},{"t":"c","x":1116,"y":213},{"t":"d","x":1116,"y":199},{"t":"e","x":1116,"y":184},{"t":"f","x":1116,"y":173},{"t":"g","x":1116,"y":158},{"t":"h","x":1116,"y":144},{"t":"i","x":1116,"y":128},{"t":"j","x":1116,"y":106},{"t":"k","x":1116,"y":59}]},
"mark":{"type":"text","font":"Liberation Serif","fontSize":11,"fontStyle":"italic","align":"left","baseline":"middle","color":"#222"},
"encoding":{"x":{"field":"x","type":"quantitative"},"y":{"field":"y","type":"quantitative","axis":null},"text":{"field":"t"}}},
{"data":{"values":[{"t":"1355","x":1376,"y":123},{"t":"1585","x":1625,"y":114},{"t":"1410","x":1427,"y":113},{"t":"1450","x":1443,"y":78},{"t":"1740","x":1746,"y":34},{"t":"1254","x":1284,"y":39},{"t":"2343","x":2225,"y":13}]},
"mark":{"type":"text","font":"Liberation Serif","fontSize":10,"align":"center","baseline":"middle","color":"#222"},
"encoding":{"x":{"field":"x","type":"quantitative"},"y":{"field":"y","type":"quantitative","axis":null},"text":{"field":"t"}}},
{"data":{"values":[{"t":"ΔR/R=0.7×10⁻²","x":3199,"y":146}]},
"mark":{"type":"text","font":"Liberation Serif","fontSize":10.5,"angle":270,"align":"center","baseline":"middle","color":"#222"},
"encoding":{"x":{"field":"x","type":"quantitative"},"y":{"field":"y","type":"quantitative","axis":null},"text":{"field":"t"}}},
{"data":{"values":[{"t":"(A)","x":3140,"y":248}]},
"mark":{"type":"text","font":"Liberation Serif","fontSize":11.5,"align":"center","baseline":"middle","color":"#222"},
"encoding":{"x":{"field":"x","type":"quantitative"},"y":{"field":"y","type":"quantitative","axis":null},"text":{"field":"t"}}}
]},
{"width":192,"height":251,
"layer":[
{"data":{"name":"B"},"mark":{"type":"line","stroke":"#333","strokeWidth":0.9},
"encoding":{"x":{"field":"x","type":"quantitative","scale":{"domain":[2323,1742],"nice":false,"zero":false},"axis":{"values":[2200,2000,1800],"format":"d","title":"ν̃/cm⁻¹"}},
"y":{"field":"y","type":"quantitative","scale":{"domain":[0,251],"nice":false,"zero":false},"axis":null},"detail":{"field":"s"}}},
{"data":{"values":[{"x":2293,"x2":2293,"y":173,"y2":111},{"x":2305,"x2":2281,"y":173,"y2":173},{"x":2305,"x2":2281,"y":111,"y2":111}]},"mark":{"type":"rule","stroke":"#333","strokeWidth":1},
"encoding":{"x":{"field":"x","type":"quantitative"},"x2":{"field":"x2"},"y":{"field":"y","type":"quantitative","axis":null},"y2":{"field":"y2"}}},
{"data":{"values":[{"t":"a","x":1766,"y":251},{"t":"b","x":1766,"y":240},{"t":"c","x":1766,"y":224},{"t":"d","x":1766,"y":203},{"t":"e","x":1766,"y":169},{"t":"f","x":1766,"y":149},{"t":"g","x":1766,"y":125},{"t":"h","x":1766,"y":96},{"t":"i","x":1766,"y":73},{"t":"j","x":1766,"y":51},{"t":"k","x":1766,"y":31}]},
"mark":{"type":"text","font":"Liberation Serif","fontSize":10.5,"fontStyle":"italic","align":"left","baseline":"middle","color":"#222"},
"encoding":{"x":{"field":"x","type":"quantitative"},"y":{"field":"y","type":"quantitative","axis":null},"text":{"field":"t"}}},
{"data":{"values":[{"t":"2100","x":2084,"y":176},{"t":"2034","x":2032,"y":160},{"t":"1870","x":1869,"y":176}]},
"mark":{"type":"text","font":"Liberation Serif","fontSize":10.5,"align":"center","baseline":"middle","color":"#222"},
"encoding":{"x":{"field":"x","type":"quantitative"},"y":{"field":"y","type":"quantitative","axis":null},"text":{"field":"t"}}},
{"data":{"values":[{"t":"ΔR/R=1.5×10⁻³","x":2332,"y":143}]},
"mark":{"type":"text","font":"Liberation Serif","fontSize":10.5,"angle":270,"align":"center","baseline":"middle","color":"#222"},
"encoding":{"x":{"field":"x","type":"quantitative"},"y":{"field":"y","type":"quantitative","axis":null},"text":{"field":"t"}}},
{"data":{"values":[{"t":"(B)","x":2285,"y":247}]},
"mark":{"type":"text","font":"Liberation Serif","fontSize":11.5,"align":"center","baseline":"middle","color":"#222"},
"encoding":{"x":{"field":"x","type":"quantitative"},"y":{"field":"y","type":"quantitative","axis":null},"text":{"field":"t"}}}
]}
]}]
}
